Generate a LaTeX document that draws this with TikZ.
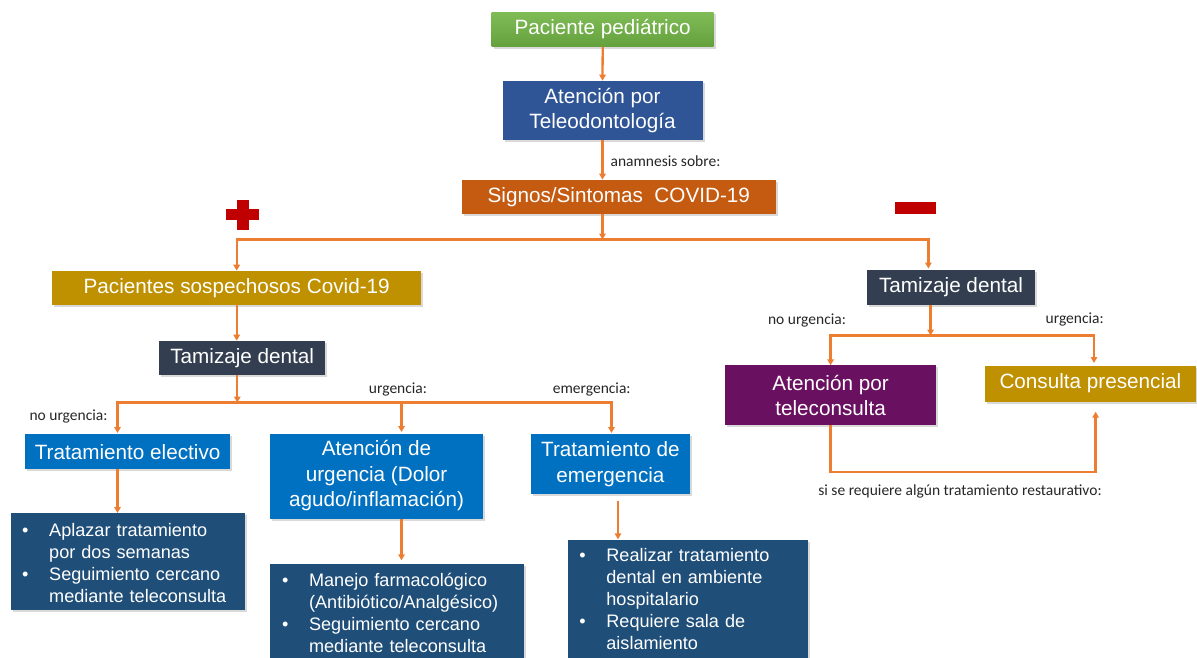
\documentclass[tikz,border=0pt]{standalone}
\usepackage{fontspec}
\setmainfont{Liberation Sans}
\newfontfamily\labfont{Carlito}
\usetikzlibrary{arrows.meta,shadows}
\definecolor{cgreen}{RGB}{112,173,71}
\definecolor{cgreenlt}{RGB}{128,188,86}
\definecolor{cgreendk}{RGB}{100,160,60}
\definecolor{cblue}{RGB}{47,85,151}
\definecolor{corangebox}{RGB}{197,90,17}
\definecolor{cgold}{RGB}{191,144,0}
\definecolor{cslate}{RGB}{51,63,80}
\definecolor{cbright}{RGB}{0,112,192}
\definecolor{cnavy}{RGB}{31,78,121}
\definecolor{cpurple}{RGB}{106,16,96}
\definecolor{cline}{RGB}{237,125,49}
\definecolor{cred}{RGB}{192,0,0}
\newcommand{\bitem}{\makebox[27pt][l]{\textbullet}}
\newcommand{\bgap}{\hspace*{27pt}}
\begin{document}
\begin{tikzpicture}[x=1pt,y=-1pt,
  cbox/.style={inner sep=0pt, align=center, text=white,
    font=\fontsize{20.7}{25.5}\selectfont,
    drop shadow={shadow xshift=2pt,shadow yshift=-2pt,opacity=0.3}},
  listbox/.style={cbox, align=left, fill=cnavy, anchor=north west,
    font=\fontsize{18.1}{22.2}\selectfont, inner xsep=11.7pt},
  lbl/.style={font=\labfont\fontsize{15.5}{18}\selectfont, anchor=base,
    text=black!85, inner sep=0pt},
  conn/.style={draw=cline, line width=2.3pt},
  arr/.style={conn, -{Triangle[length=6pt,width=6.5pt]}}]
\useasboundingbox (0,0) rectangle (1197,657);

% boxes
\node[cbox, top color=cgreenlt, bottom color=cgreendk, minimum width=222pt, minimum height=34.7pt] (pac) at (602.7,29.4) {Paciente pediátrico};
\node[cbox, fill=cblue, minimum width=200pt, minimum height=59.3pt] (tel) at (602.5,110.5) {Atención por\\Teleodontología};
\node[cbox, fill=corangebox, minimum width=314pt, minimum height=34.3pt] (sig) at (618.8,197) {Signos/Sintomas\ \ COVID-19};
\node[cbox, fill=cgold, minimum width=369.4pt, minimum height=34.3pt] (sosp) at (236.7,288) {Pacientes sospechosos Covid-19};
\node[cbox, fill=cslate, minimum width=168pt, minimum height=35pt] (tam2) at (951,287.6) {Tamizaje dental};
\node[cbox, fill=cslate, minimum width=166pt, minimum height=34.3pt] (tam1) at (242.2,358) {Tamizaje dental};
\node[cbox, fill=cbright, minimum width=205.5pt, minimum height=34.3pt] (elec) at (127.6,451.6) {Tratamiento electivo};
\node[cbox, fill=cbright, minimum width=212.8pt, minimum height=85pt] (urg) at (376.6,476) {Atención de\\urgencia (Dolor\\agudo/inflamación)};
\node[cbox, fill=cbright, minimum width=159pt, minimum height=59.7pt] (emer) at (610.4,464.3) {Tratamiento de\\emergencia};
\node[cbox, fill=cpurple, minimum width=211.6pt, minimum height=59.7pt] (telec) at (830.6,395.3) {Atención por\\teleconsulta};
\node[cbox, fill=cgold, minimum width=211.6pt, minimum height=36pt] (pres) at (1090.4,383.5) {Consulta presencial};

\node[listbox, text width=211.2pt, minimum height=97pt, inner ysep=3pt] (apl) at (10.3,513) {\strut\bitem Aplazar tratamiento\\\bgap por dos semanas\\\bitem Seguimiento cercano\\\bgap mediante teleconsulta};
\node[listbox, text width=230.6pt, inner ysep=7pt] (man) at (270.2,563.3) {\strut\bitem Manejo farmacológico\\\bgap (Antibiótico/Analgésico)\\\bitem Seguimiento cercano\\\bgap mediante teleconsulta\strut\\\strut};
\node[listbox, text width=216.9pt, inner ysep=6pt] (real) at (567.5,539.3) {\strut\bitem Realizar tratamiento\\\bgap dental en ambiente\\\bgap hospitalario\\\bitem Requiere sala de\\\bgap aislamiento\strut\\\strut};

% plus and minus signs
\fill[cred] (236.5,200.3) rectangle (249.1,230.3);
\fill[cred] (225.8,209.3) rectangle (259.1,219.8);
\fill[cred] (895.4,202) rectangle (936.4,214.3);

% labels
\node[lbl] (lanam) at (665.5,166.7) {anamnesis sobre:};
\node[lbl] (lnu1) at (68.5,420) {no urgencia:};
\node[lbl] (lu1) at (398,393) {urgencia:};
\node[lbl] (le1) at (591.7,393) {emergencia:};
\node[lbl] (lnu2) at (807,324.3) {no urgencia:};
\node[lbl] (lu2) at (1074.7,323.5) {urgencia:};
\node[lbl] (lsi) at (960,495) {si se requiere algún tratamiento restaurativo:};

% connectors
\draw[arr] (pac.south) -- (tel.north);
\draw[arr] (tel.south) -- (tel.south |- sig.north);
\coordinate (j1) at (602.5,239.5);
\draw[arr] (sig.south -| j1) -- (j1);
\draw[arr] (j1) -| (sosp.north);
\coordinate (t2in) at (928.4,268.5);
\draw[arr] (j1) -| (t2in);

\draw[arr] (sosp.south) -- (sosp.south |- tam1.north);
\coordinate (j2) at (237.3,402.5);
\draw[arr] (tam1.south -| j2) -- (j2);
\coordinate (e1in) at (117.5,433);
\coordinate (u1in) at (401.5,432);
\coordinate (m1in) at (611.5,433);
\draw[arr] (j2) -| (e1in);
\draw[arr] (j2) -| (u1in);
\draw[arr] (j2) -| (m1in);

\draw[arr] (elec.south -| e1in) -- (apl.north -| e1in);
\draw[arr, shorten >=3pt] (urg.south -| u1in) -- (man.north -| u1in);
\coordinate (x3) at (618,500.5);
\draw[arr] (x3) -- (real.north -| x3);

\coordinate (j3) at (930.6,335.5);
\draw[arr] (tam2.south -| j3) -- (j3);
\coordinate (p2in) at (1094,363);
\draw[arr] (j3) -| (telec.north);
\draw[arr] (j3) -| (p2in);

\coordinate (lp) at (1095.6,471.7);
\draw[arr, shorten >=10pt] (telec.south) |- (lp) -- (lp |- pres.south);
\end{tikzpicture}
\end{document}
